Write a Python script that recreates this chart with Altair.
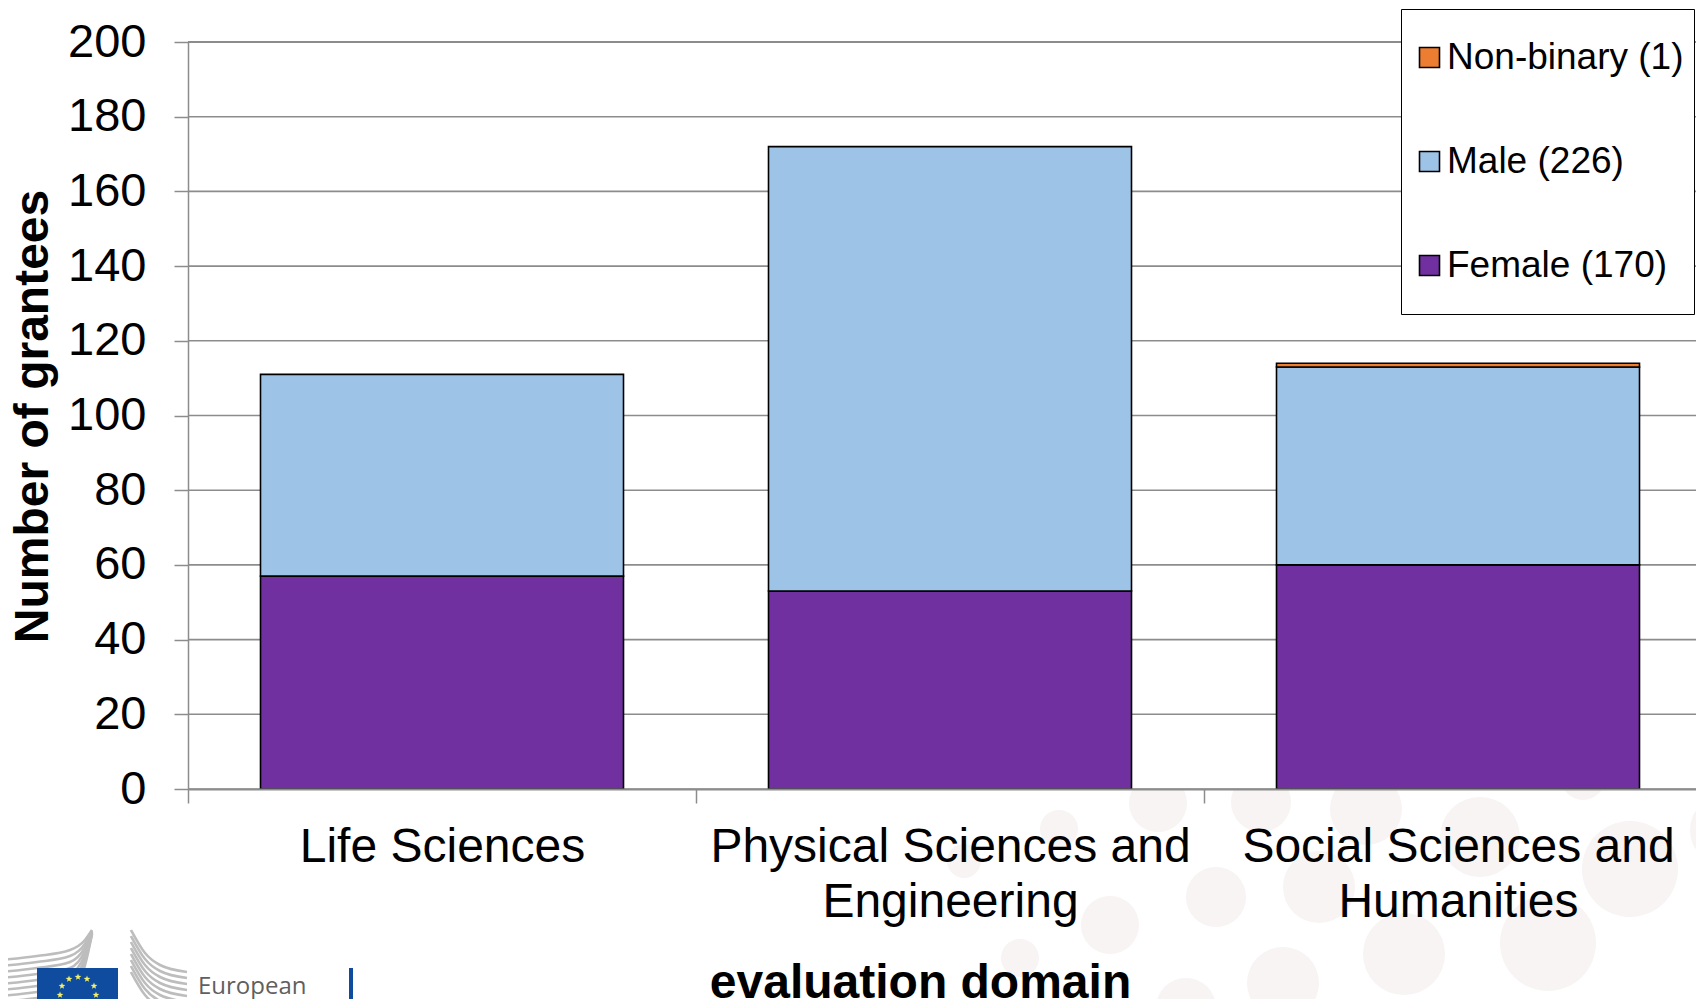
import altair as alt
import pandas as pd

categories = ["Life Sciences", "Physical Sciences and|Engineering", "Social Sciences and|Humanities"]
female = [57, 53, 60]
male = [54, 119, 53]
nonbinary = [0, 0, 1]
series_names = ["Non-binary (1)", "Male (226)", "Female (170)"]
series_colors = ["#ED7D31", "#9DC3E6", "#7030A0"]
y_ticks = list(range(0, 201, 20))

# decorative background circles, read in picture pixels
circle_x = [1158, 1261, 1366, 1480, 1630, 1583, 1725, 1059, 1216, 1319, 1110, 1020, 1404, 1548, 1283, 1186, 1500, 964]
circle_y = [803, 802, 809, 837, 869, 778, 830, 829, 897, 887, 925, 958, 954, 943, 983, 1008, 1033, 861]
circle_r = [29, 30, 36, 40, 48, 22, 35, 19, 30, 36, 29, 19, 41, 48, 36, 30, 33, 17]

# logo elements, read in picture pixels
star_x = [78, 69, 87, 62, 94, 60, 96, 62, 94, 69, 87, 78]
star_y = [977, 979, 979, 986, 986, 995, 995, 1004, 1004, 1011, 1011, 1013]
left_x = [0, 37, 70, 85, 92]
left_y = [960, 956, 950, 940, 930]
right_x = [131, 145, 160, 187]
right_y = [930, 953, 965, 972]
stripe_offsets = [0, 6, 12, 18, 24, 30, 36, 42]
logo_text = ["European"]
logo_text_x = [198]
logo_text_y = [994]

rows = []
for i, c in enumerate(categories):
    rows.append({"cat": c, "series": series_names[2], "v": female[i], "ord": 0})
    rows.append({"cat": c, "series": series_names[1], "v": male[i], "ord": 1})
    if nonbinary[i]:
        rows.append({"cat": c, "series": series_names[0], "v": nonbinary[i], "ord": 2})
df = pd.DataFrame(rows)

W, H = 1508, 747
PX0, PY0 = 188, 42
px_x = alt.Scale(domain=[PX0, PX0 + W], range=[0, W])
px_y = alt.Scale(domain=[PY0, PY0 + H], range=[0, H])
X = lambda f="x:Q": alt.X(f, scale=px_x, axis=None)
Y = lambda f="y:Q": alt.Y(f, scale=px_y, axis=None)

circ = pd.DataFrame({"x": circle_x, "y": circle_y, "s": [4 * r * r for r in circle_r]})
circles = alt.Chart(circ).mark_point(filled=True, shape="circle", color="#F7F4F3", opacity=1).encode(
    x=X(), y=Y(), size=alt.Size("s:Q", scale=None, legend=None),
)
mask = alt.Chart(pd.DataFrame({"a": [1]})).mark_rect(color="white").encode(
    x=alt.value(0), x2=alt.value(W), y=alt.value(0), y2=alt.value(H)
)
grid = alt.Chart(pd.DataFrame({"v": y_ticks})).mark_rule(strokeWidth=1.6).encode(
    x=alt.value(0), x2=alt.value(W),
    y=alt.Y("v:Q", scale=alt.Scale(domain=[0, 200], nice=False), axis=None),
    color=alt.condition("datum.v == 200", alt.value("#666666"), alt.value("#8c8c8c")),
)

# logo
stripes = []
for k, off in enumerate(stripe_offsets):
    for x, y in zip(left_x, left_y):
        stripes.append({"x": x, "y": y + off if x < 80 else y + off * (0.6 if x < 90 else 0.1), "g": f"l{k}"})
    for x, y in zip(right_x, right_y):
        stripes.append({"x": x, "y": y + off, "g": f"r{k}"})
logo_lines = alt.Chart(pd.DataFrame(stripes)).mark_line(color="#BDBDBD", strokeWidth=2.6, interpolate="monotone").encode(
    x=X(), y=Y(), detail="g:N"
)
blue = alt.Chart(pd.DataFrame({"x": [37, 349], "x2": [118, 353], "y": [968, 968], "y2": [1020, 1020]})).mark_rect(color="#0F4C9F").encode(
    x=X(), x2="x2:Q", y=Y(), y2="y2:Q"
)
STAR = "M0,-1L0.235,-0.324L0.951,-0.309L0.38,0.124L0.588,0.809L0,0.4L-0.588,0.809L-0.38,0.124L-0.951,-0.309L-0.235,-0.324Z"
stars = alt.Chart(pd.DataFrame({"x": star_x, "y": star_y})).mark_point(
    filled=True, shape=STAR, color="#F3EE6A", opacity=1, size=50
).encode(x=X(), y=Y())
logo_words = alt.Chart(pd.DataFrame({"x": logo_text_x, "y": logo_text_y, "t": logo_text})).mark_text(
    font="Open Sans", fontSize=24, color="#5f5f5f", align="left", baseline="alphabetic"
).encode(x=X(), y=Y(), text="t:N")

bars = alt.Chart(df).mark_bar(stroke="black", strokeWidth=1.6, width=363).encode(
    x=alt.X("cat:N", sort=categories,
            scale=alt.Scale(range=[0, 1524], paddingInner=0, paddingOuter=0),
            axis=alt.Axis(title="evaluation domain", titleFont="Liberation Sans", titleFontSize=48,
                          titleFontWeight="bold", titleColor="black", titleX=732, titleY=208,
                          titleBaseline="alphabetic", titleAnchor="middle",
                          labelFont="Liberation Sans", labelFontSize=48, labelColor="black",
                          labelAngle=0, labelPadding=20, labelLimit=0, labelLineHeight=55,
                          labelExpr="split(datum.label,'|')", labelBaseline="top",
                          tickBand="extent", tickSize=14, tickColor="#8c8c8c", tickWidth=1.5,
                          domainColor="#8c8c8c", domainWidth=2, grid=False, zindex=1)),
    y=alt.Y("v:Q", stack="zero", scale=alt.Scale(domain=[0, 200], nice=False),
            axis=alt.Axis(title="Number of grantees", titleFont="Liberation Sans", titleFontSize=48,
                          titleFontWeight="bold", titleColor="black", titleX=-155, titleY=374,
                          titleAngle=270, titleBaseline="middle", titleAnchor="middle",
                          values=y_ticks, labelFont="Liberation Sans", labelFontSize=47, labelColor="black",
                          labelPadding=28, tickSize=14, tickColor="#8c8c8c", tickWidth=1.5,
                          domainColor="#8c8c8c", domainWidth=1.5, grid=False, zindex=1)),
    color=alt.Color("series:N", scale=alt.Scale(domain=series_names, range=series_colors),
                    legend=alt.Legend(title=None, orient="none", legendX=1213, legendY=-33,
                                      fillColor="white", strokeColor="black", symbolType="square",
                                      symbolSize=400, symbolStrokeColor="black", symbolStrokeWidth=1.6,
                                      labelFont="Liberation Sans", labelFontSize=37, labelColor="black",
                                      labelOffset={"expr": "-1"}, labelLimit=0, clipHeight=77,
                                      rowPadding=27, padding=10,
                                      values=series_names, symbolOpacity=1)),
    order=alt.Order("ord:Q"),
)

chart = alt.layer(circles, logo_lines, blue, stars, logo_words, mask, grid, bars).resolve_scale(
    x="independent", y="independent", color="independent", size="independent"
).properties(
    width=W, height=H,
    padding={"left": 180, "top": 34, "right": 0, "bottom": 210},
    autosize=alt.AutoSizeParams(type="none"),
).configure_view(stroke=None)

chart.save("out.html", embed_options={"renderer": "svg", "actions": False})
